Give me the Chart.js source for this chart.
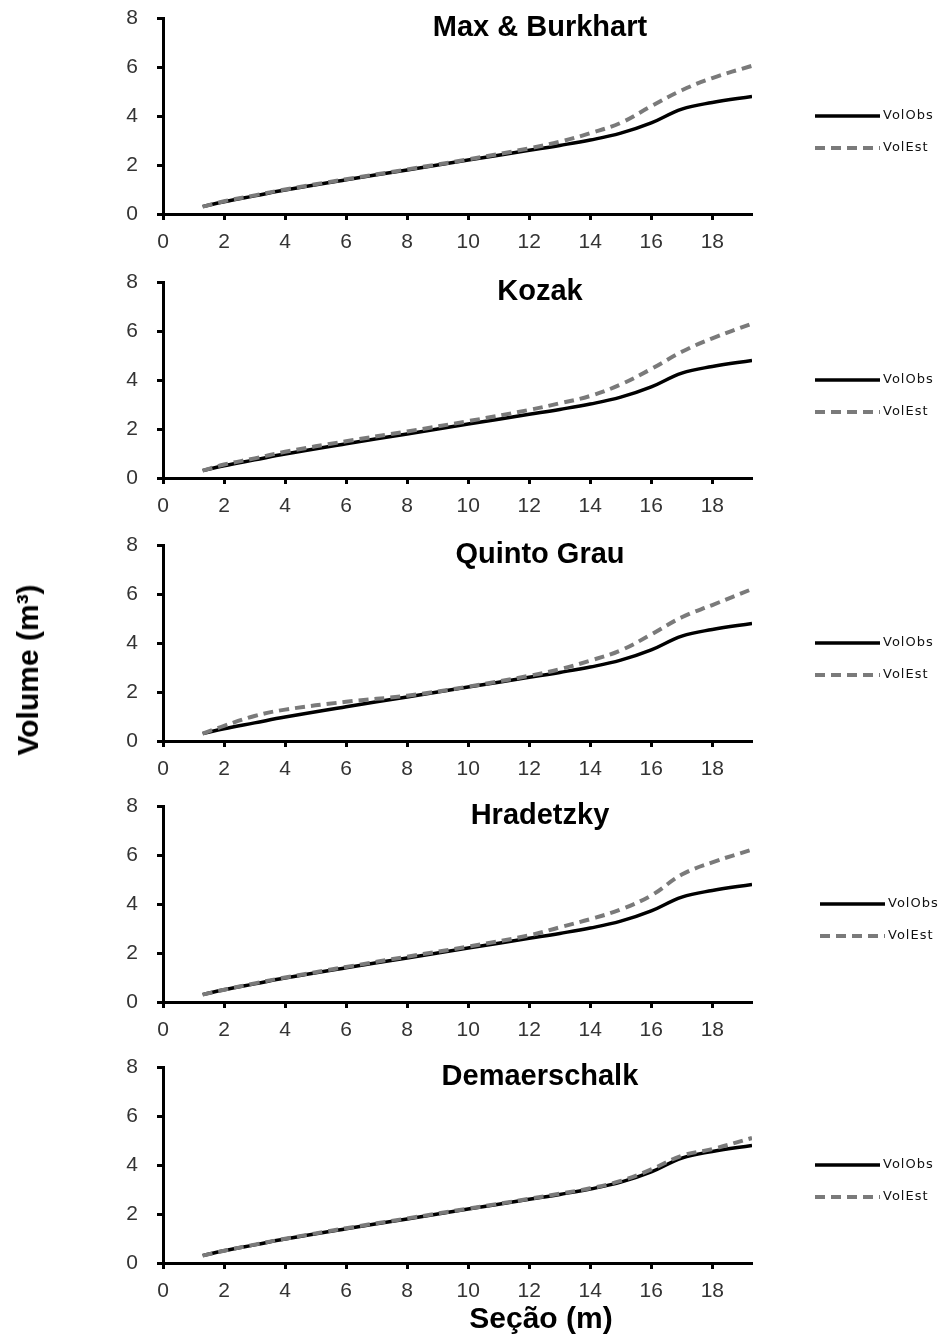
<!DOCTYPE html>
<html>
<head>
<meta charset="utf-8">
<script src="https://cdn.jsdelivr.net/npm/chart.js@4.4.1/dist/chart.umd.min.js"></script>
<style>
    body { margin: 0; background: #fff; }
    #pagina { position: relative; width: 947px; height: 1338px; overflow: hidden; }
    canvas { position: absolute; left: 0; }
    .rotulo { position: absolute; font-family: "Liberation Sans", Arial, sans-serif; font-weight: bold; color: #000; white-space: nowrap; }
    #rotuloY { left: 28px; top: 670px; font-size: 30px; transform: translate(-50%, -50%) rotate(-90deg); }
    #rotuloX { left: 541px; top: 1318px; font-size: 30px; transform: translate(-50%, -50%); }
</style>
</head>
<body>
<div id="pagina">
    <canvas id="g0" width="947" height="262" style="top:0px"></canvas>
    <canvas id="g1" width="947" height="262" style="top:264px"></canvas>
    <canvas id="g2" width="947" height="262" style="top:527px"></canvas>
    <canvas id="g3" width="947" height="262" style="top:788px"></canvas>
    <canvas id="g4" width="947" height="262" style="top:1049px"></canvas>
    <div class="rotulo" id="rotuloY">Volume (m³)</div>
    <div class="rotulo" id="rotuloX">Seção (m)</div>
</div>
<script>
const secoes = [1.3, 2, 3, 4, 6, 8, 10, 12, 13, 14, 15, 16, 17, 18, 19.3];
const volObs = [0.3, 0.5, 0.74, 0.98, 1.4, 1.8, 2.2, 2.6, 2.8, 3.02, 3.3, 3.72, 4.28, 4.55, 4.8];

const estMaxBurkhart = [0.3, 0.52, 0.76, 1.0, 1.42, 1.82, 2.23, 2.68, 2.95, 3.3, 3.72, 4.4, 5.05, 5.55, 6.05];
const estKozak = [0.3, 0.55, 0.8, 1.07, 1.5, 1.9, 2.32, 2.78, 3.05, 3.35, 3.82, 4.45, 5.15, 5.7, 6.3];
const estQuintoGrau = [0.3, 0.62, 1.02, 1.28, 1.6, 1.85, 2.22, 2.66, 2.93, 3.28, 3.7, 4.35, 5.05, 5.55, 6.2];
const estHradetzky = [0.3, 0.5, 0.76, 1.0, 1.43, 1.85, 2.26, 2.72, 3.05, 3.38, 3.78, 4.35, 5.2, 5.7, 6.22];
const estDemaerschalk = [0.3, 0.5, 0.75, 0.99, 1.42, 1.82, 2.22, 2.62, 2.83, 3.05, 3.35, 3.82, 4.38, 4.65, 5.1];

const titulos = ['Max & Burkhart', 'Kozak', 'Quinto Grau', 'Hradetzky', 'Demaerschalk'];
const estimados = [estMaxBurkhart, estKozak, estQuintoGrau, estHradetzky, estDemaerschalk];
const nomesSeries = ['VolObs', 'VolEst'];
const xTicks = [0, 2, 4, 6, 8, 10, 12, 14, 16, 18];
const yTicks = [0, 2, 4, 6, 8];

// deslocamento da legenda (a do Hradetzky fica um pouco mais a direita)
const legendaDx = [0, 0, 0, 5, 0];

function pontos(valores) {
    return secoes.map((s, i) => ({ x: s, y: valores[i] }));
}

const pluginTituloLegenda = {
    id: 'tituloLegenda',
    afterDraw(chart, args, opts) {
        const ctx = chart.ctx;
        const area = chart.chartArea;
        ctx.save();
        ctx.fillStyle = '#000';
        ctx.font = 'bold 29px "Liberation Sans", Arial, sans-serif';
        ctx.textAlign = 'center';
        ctx.textBaseline = 'alphabetic';
        ctx.fillText(opts.titulo, area.left + 0.64 * (area.right - area.left), area.top + 18);

        const x0 = area.right + 63 + opts.dx;
        chart.data.datasets.forEach((ds, i) => {
            const y = area.top + 98 + 32 * i;
            ctx.beginPath();
            ctx.strokeStyle = ds.borderColor;
            ctx.lineWidth = ds.borderWidth;
            ctx.setLineDash(ds.borderDash || []);
            ctx.moveTo(x0, y);
            ctx.lineTo(x0 + 65, y);
            ctx.stroke();
            ctx.setLineDash([]);
            ctx.fillStyle = '#111';
            ctx.font = '13px "DejaVu Sans", sans-serif';
            ctx.letterSpacing = '1px';
            ctx.textAlign = 'left';
            ctx.textBaseline = 'middle';
            ctx.fillText(ds.label, x0 + 68, y);
            ctx.letterSpacing = '0px';
        });
        ctx.restore();
    }
};

function criarGrafico(n) {
    const config = {
        type: 'line',
        data: {
            datasets: [{
                label: nomesSeries[0],
                data: pontos(volObs),
                borderColor: '#000',
                borderWidth: 3.5,
                pointRadius: 0,
                tension: 0.4,
                order: 2
            }, {
                label: nomesSeries[1],
                data: pontos(estimados[n]),
                borderColor: '#7a7a7a',
                borderWidth: 4,
                borderDash: [10, 6],
                pointRadius: 0,
                tension: 0.4,
                order: 1
            }]
        },
        options: {
            responsive: false,
            animation: false,
            layout: { autoPadding: false, padding: { top: 18, right: 195, left: 0, bottom: 0 } },
            plugins: {
                legend: { display: false },
                tooltip: { enabled: false },
                tituloLegenda: { titulo: titulos[n], dx: legendaDx[n] }
            },
            scales: {
                x: {
                    type: 'linear',
                    min: 0,
                    max: 19.3,
                    afterFit: (s) => { s.height = 48; s.paddingLeft = 0; s.paddingRight = 0; },
                    afterBuildTicks: (s) => { s.ticks = xTicks.map(v => ({ value: v })); },
                    border: { color: '#000', width: 3 },
                    grid: { drawOnChartArea: false, tickLength: 6, tickColor: '#000', tickWidth: 3 },
                    ticks: {
                        padding: 10,
                        color: '#333',
                        maxRotation: 0,
                        autoSkip: false,
                        font: { family: '"Liberation Sans", Arial, sans-serif', size: 21 }
                    }
                },
                y: {
                    min: 0,
                    max: 8,
                    afterFit: (s) => { s.width = 163; s.paddingTop = 0; s.paddingBottom = 0; },
                    afterBuildTicks: (s) => { s.ticks = yTicks.map(v => ({ value: v })); },
                    border: { color: '#000', width: 3 },
                    grid: { drawOnChartArea: false, tickLength: 6, tickColor: '#000', tickWidth: 3 },
                    ticks: {
                        padding: 19,
                        color: '#333',
                        font: { family: '"Liberation Sans", Arial, sans-serif', size: 21 }
                    }
                }
            }
        },
        plugins: [pluginTituloLegenda]
    };
    return new Chart(document.getElementById('g' + n), config);
}

for (let i = 0; i < titulos.length; i++) {
    criarGrafico(i);
}
</script>
</body>
</html>
